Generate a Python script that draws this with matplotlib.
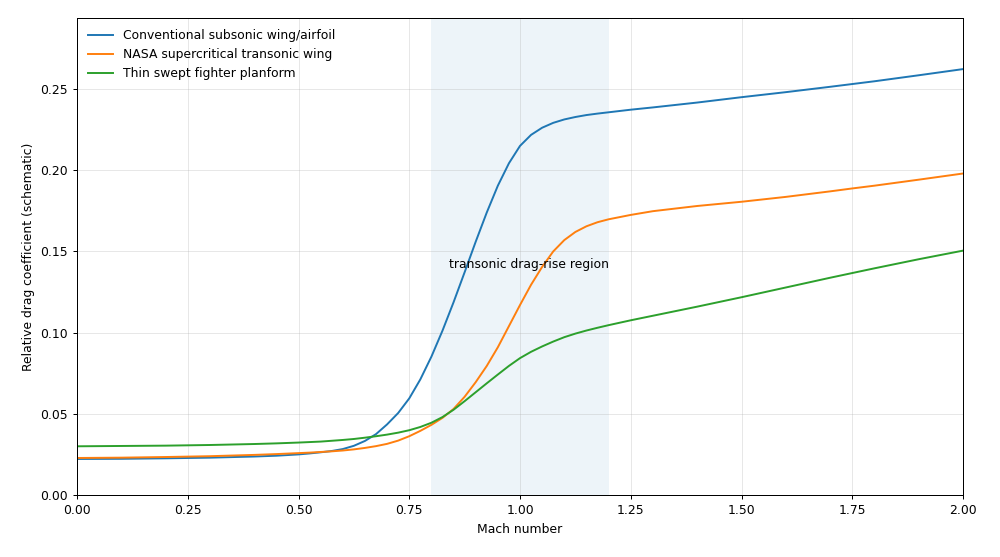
import matplotlib
matplotlib.use("Agg")
import matplotlib.pyplot as plt

mach = [0.00, 0.10, 0.20, 0.30, 0.40, 0.45, 0.50, 0.525, 0.55, 0.575, 0.60,
        0.625, 0.65, 0.675, 0.70, 0.725, 0.75, 0.775, 0.80, 0.825, 0.85, 0.875,
        0.90, 0.925, 0.95, 0.975, 1.00, 1.025, 1.05, 1.075, 1.10, 1.125, 1.15,
        1.175, 1.20, 1.25, 1.30, 1.40, 1.50, 1.60, 1.70, 1.75, 1.80, 1.90, 2.00]

conventional = [0.0222, 0.0223, 0.0226, 0.0230, 0.0237, 0.0242, 0.0250, 0.0256,
                0.0263, 0.0271, 0.0283, 0.0303, 0.0333, 0.0375, 0.0435, 0.0505,
                0.0595, 0.0712, 0.0852, 0.1012, 0.1187, 0.1372, 0.1560, 0.1740,
                0.1905, 0.2043, 0.2150, 0.2218, 0.2262, 0.2292, 0.2313, 0.2328,
                0.2340, 0.2349, 0.2357, 0.2373, 0.2387, 0.2417, 0.2450, 0.2481,
                0.2514, 0.2531, 0.2548, 0.2585, 0.2623]

supercritical = [0.0228, 0.0230, 0.0234, 0.0239, 0.0247, 0.0252, 0.0258, 0.0261,
                 0.0265, 0.0269, 0.0274, 0.0281, 0.0290, 0.0301, 0.0315, 0.0335,
                 0.0362, 0.0395, 0.0432, 0.0475, 0.0530, 0.0605, 0.0695, 0.0795,
                 0.0910, 0.1040, 0.1170, 0.1295, 0.1405, 0.1500, 0.1570, 0.1620,
                 0.1655, 0.1680, 0.1698, 0.1725, 0.1748, 0.1780, 0.1806, 0.1836,
                 0.1870, 0.1888, 0.1905, 0.1942, 0.1980]

fighter = [0.0300, 0.0302, 0.0304, 0.0308, 0.0314, 0.0318, 0.0323, 0.0326,
           0.0329, 0.0334, 0.0339, 0.0345, 0.0353, 0.0362, 0.0372, 0.0384,
           0.0399, 0.0419, 0.0445, 0.0480, 0.0525, 0.0578, 0.0633, 0.0688,
           0.0742, 0.0795, 0.0843, 0.0882, 0.0915, 0.0945, 0.0972, 0.0994,
           0.1013, 0.1030, 0.1046, 0.1076, 0.1104, 0.1160, 0.1218, 0.1278,
           0.1338, 0.1367, 0.1396, 0.1452, 0.1505]

labels = ["Conventional subsonic wing/airfoil",
          "NASA supercritical transonic wing",
          "Thin swept fighter planform"]

plt.rcParams.update({
    "font.size": 8.9,
    "axes.linewidth": 0.72,
    "xtick.major.size": 3.1,
    "ytick.major.size": 3.1,
    "xtick.major.width": 0.72,
    "ytick.major.width": 0.72,
    "grid.linewidth": 0.72,
})

fig = plt.figure(figsize=(10, 5.57), dpi=100)
ax = fig.add_axes([0.077, 0.1113, 0.886, 0.8564])

ax.axvspan(0.8, 1.2, color="tab:blue", alpha=0.08, lw=0)
ax.plot(mach, conventional, color="tab:blue", lw=1.4, label=labels[0])
ax.plot(mach, supercritical, color="tab:orange", lw=1.4, label=labels[1])
ax.plot(mach, fighter, color="tab:green", lw=1.4, label=labels[2])

ax.text(0.84, 0.14, "transonic drag-rise region")

ax.set_xlim(0, 2.0)
ax.set_ylim(0, max(conventional) * 1.12)
ax.set_xlabel("Mach number")
ax.set_ylabel("Relative drag coefficient (schematic)")
ax.grid(True, alpha=0.3)
ax.legend(loc="upper left", frameon=False)

fig.savefig("out.png", dpi=100)
